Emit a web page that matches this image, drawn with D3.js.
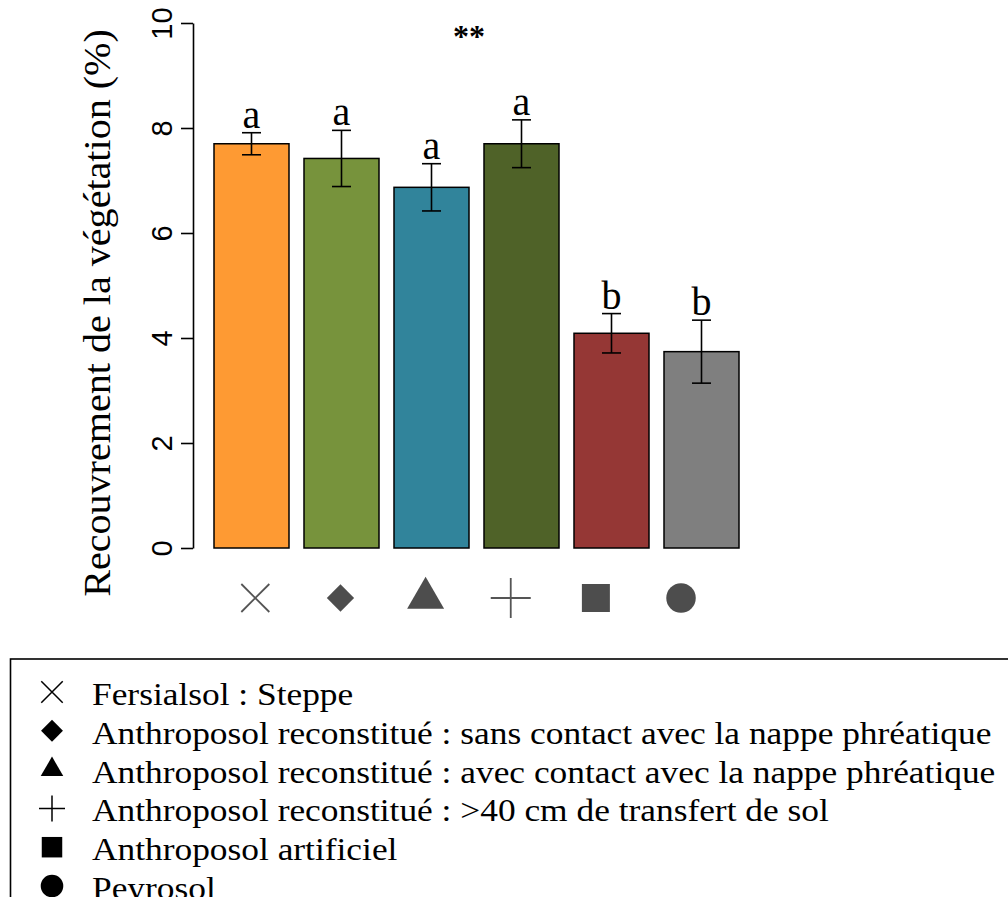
<!DOCTYPE html>
<html><head><meta charset="utf-8">
<script src="https://cdn.jsdelivr.net/npm/d3@7"></script>
<style>
html,body{margin:0;padding:0;background:#fff;}
svg{display:block;}
</style></head>
<body>
<script>
const categories = [
  "Fersialsol : Steppe",
  "Anthroposol reconstitué : sans contact avec la nappe phréatique",
  "Anthroposol reconstitué : avec contact avec la nappe phréatique",
  "Anthroposol reconstitué : >40 cm de transfert de sol",
  "Anthroposol artificiel",
  "Peyrosol"
];
const means = [7.70, 7.42, 6.87, 7.70, 4.09, 3.74];
const errors = [0.21, 0.535, 0.45, 0.455, 0.375, 0.60];
const letters = ["a", "a", "a", "a", "b", "b"];
const colors = ["#FE9A33", "#77933C", "#31849B", "#4F6228", "#953735", "#7F7F7F"];
const symbolNames = ["times", "diamond", "triangle", "plus", "square", "circle"];
const yTicks = [0, 2, 4, 6, 8, 10];
const yLabel = "Recouvrement de la végétation (%)";
const signif = "**";

const W = 1008, H = 897;
const serif = "'Liberation Serif', 'DejaVu Serif', serif";
const sans = "'Liberation Sans', Arial, sans-serif";

const svg = d3.select("body").append("svg").attr("width", W).attr("height", H);

// R barplot-style coordinates: width 1, space 0.2
const barW = 1, space = 0.2;
const lefts = means.map((_, i) => space + i * (barW + space));
const xs = d3.scaleLinear().domain([-0.08, 7.48]).range([193, 760]);
const y = d3.scaleLinear().domain([0, 10]).range([548, 23]);

// symbol custom types
const crossX = { draw(ctx, size) { const r = Math.sqrt(size) / 2; ctx.moveTo(-r, -r); ctx.lineTo(r, r); ctx.moveTo(r, -r); ctx.lineTo(-r, r); } };
const crossPlus = { draw(ctx, size) { const r = Math.sqrt(size) / 2; ctx.moveTo(-r, 0); ctx.lineTo(r, 0); ctx.moveTo(0, -r); ctx.lineTo(0, r); } };
const symTypes = {
  times: crossX, plus: crossPlus, diamond: d3.symbolSquare,
  triangle: d3.symbolTriangle, square: d3.symbolSquare, circle: d3.symbolCircle
};
const isStroke = n => n === "times" || n === "plus";

// stretch serif text horizontally to approximate the wider original face
function widen(sel, factor) {
  sel.each(function () {
    const w = this.getComputedTextLength();
    d3.select(this).attr("textLength", w * factor).attr("lengthAdjust", "spacingAndGlyphs");
  });
}

// bars
const g = svg.append("g");
g.selectAll("rect.bar").data(means).join("rect")
  .attr("class", "bar")
  .attr("x", (d, i) => xs(lefts[i]))
  .attr("width", (d, i) => xs(lefts[i] + barW) - xs(lefts[i]))
  .attr("y", d => y(d))
  .attr("height", d => y(0) - y(d))
  .attr("fill", (d, i) => colors[i])
  .attr("stroke", "#000").attr("stroke-width", 1.5);

// error bars
const cx = i => xs(lefts[i] + barW / 2);
const capHalf = 9.5;
const eb = g.selectAll("g.err").data(means).join("g").attr("class", "err")
  .attr("stroke", "#000").attr("stroke-width", 1.6);
eb.append("line").attr("x1", (d, i) => cx(i)).attr("x2", (d, i) => cx(i))
  .attr("y1", (d, i) => y(d + errors[i])).attr("y2", (d, i) => y(d - errors[i]));
eb.append("line").attr("x1", (d, i) => cx(i) - capHalf).attr("x2", (d, i) => cx(i) + capHalf)
  .attr("y1", (d, i) => y(d + errors[i])).attr("y2", (d, i) => y(d + errors[i]));
eb.append("line").attr("x1", (d, i) => cx(i) - capHalf).attr("x2", (d, i) => cx(i) + capHalf)
  .attr("y1", (d, i) => y(d - errors[i])).attr("y2", (d, i) => y(d - errors[i]));

// letters
g.selectAll("text.let").data(letters).join("text").attr("class", "let")
  .attr("x", (d, i) => cx(i))
  .attr("y", (d, i) => y(means[i] + errors[i]) - 5)
  .attr("text-anchor", "middle")
  .style("font-family", serif).style("font-size", "40px")
  .text(d => d);

// significance
svg.append("text").attr("x", xs(3.6)).attr("y", 47)
  .attr("text-anchor", "middle")
  .style("font-family", serif).style("font-size", "32px").style("font-weight", "bold")
  .text(signif);

// y axis
const yAxis = d3.axisLeft(y).tickValues(yTicks).tickSize(12).tickSizeOuter(0).tickFormat(d3.format("d"));
const ax = svg.append("g").attr("transform", `translate(${xs(-0.08)},0)`).call(yAxis);
ax.select(".domain").attr("stroke", "#000").attr("stroke-width", 1.6);
ax.selectAll(".tick line").attr("stroke", "#000").attr("stroke-width", 1.6);
ax.selectAll(".tick text")
  .attr("transform", "rotate(-90)")
  .attr("x", 0).attr("y", -21).attr("dy", null)
  .attr("text-anchor", "middle")
  .attr("fill", "#000")
  .style("font-family", sans).style("font-size", "29px");

// y label
const yl = svg.append("text")
  .attr("transform", "translate(110,313) rotate(-90)")
  .attr("text-anchor", "middle")
  .style("font-family", serif).style("font-size", "38px")
  .text(yLabel);
widen(yl, 1.055);

// symbols under bars
const symX = d3.scalePoint().domain(d3.range(categories.length)).range([xs(0.751), xs(6.427)]);
const mainSizes = { times: 784, plus: 1600, diamond: 372, triangle: 593, square: 784, circle: 683 };
svg.append("g").selectAll("path").data(symbolNames).join("path")
  .attr("transform", (d, i) => `translate(${symX(i)},598)` + (d === "diamond" ? " rotate(45)" : ""))
  .attr("d", d => d3.symbol(symTypes[d], mainSizes[d])())
  .attr("fill", d => isStroke(d) ? "none" : "#4D4D4D")
  .attr("stroke", d => isStroke(d) ? "#555" : "none")
  .attr("stroke-width", 1.8);

// legend
const leg = svg.append("g");
leg.append("rect").attr("x", 10.5).attr("y", 659).attr("width", 1200).attr("height", 400)
  .attr("fill", "none").attr("stroke", "#000").attr("stroke-width", 1.6);
const legY = d3.scalePoint().domain(d3.range(categories.length)).range([705, 899]);
const legSizes = { times: 460, plus: 676, diamond: 240, triangle: 220, square: 420, circle: 400 };
const lt = leg.selectAll("text").data(categories).join("text")
  .attr("x", 92).attr("y", (d, i) => legY(i))
  .style("font-family", serif).style("font-size", "32px")
  .text(d => d);
widen(lt, 1.105);
leg.selectAll("path").data(symbolNames).join("path")
  .attr("transform", (d, i) => `translate(52,${legY(i) - 13})` + (d === "diamond" ? " rotate(45)" : ""))
  .attr("d", d => d3.symbol(symTypes[d], legSizes[d])())
  .attr("fill", d => isStroke(d) ? "none" : "#000")
  .attr("stroke", d => isStroke(d) ? "#000" : "none")
  .attr("stroke-width", 1.5);
</script>
</body></html>
